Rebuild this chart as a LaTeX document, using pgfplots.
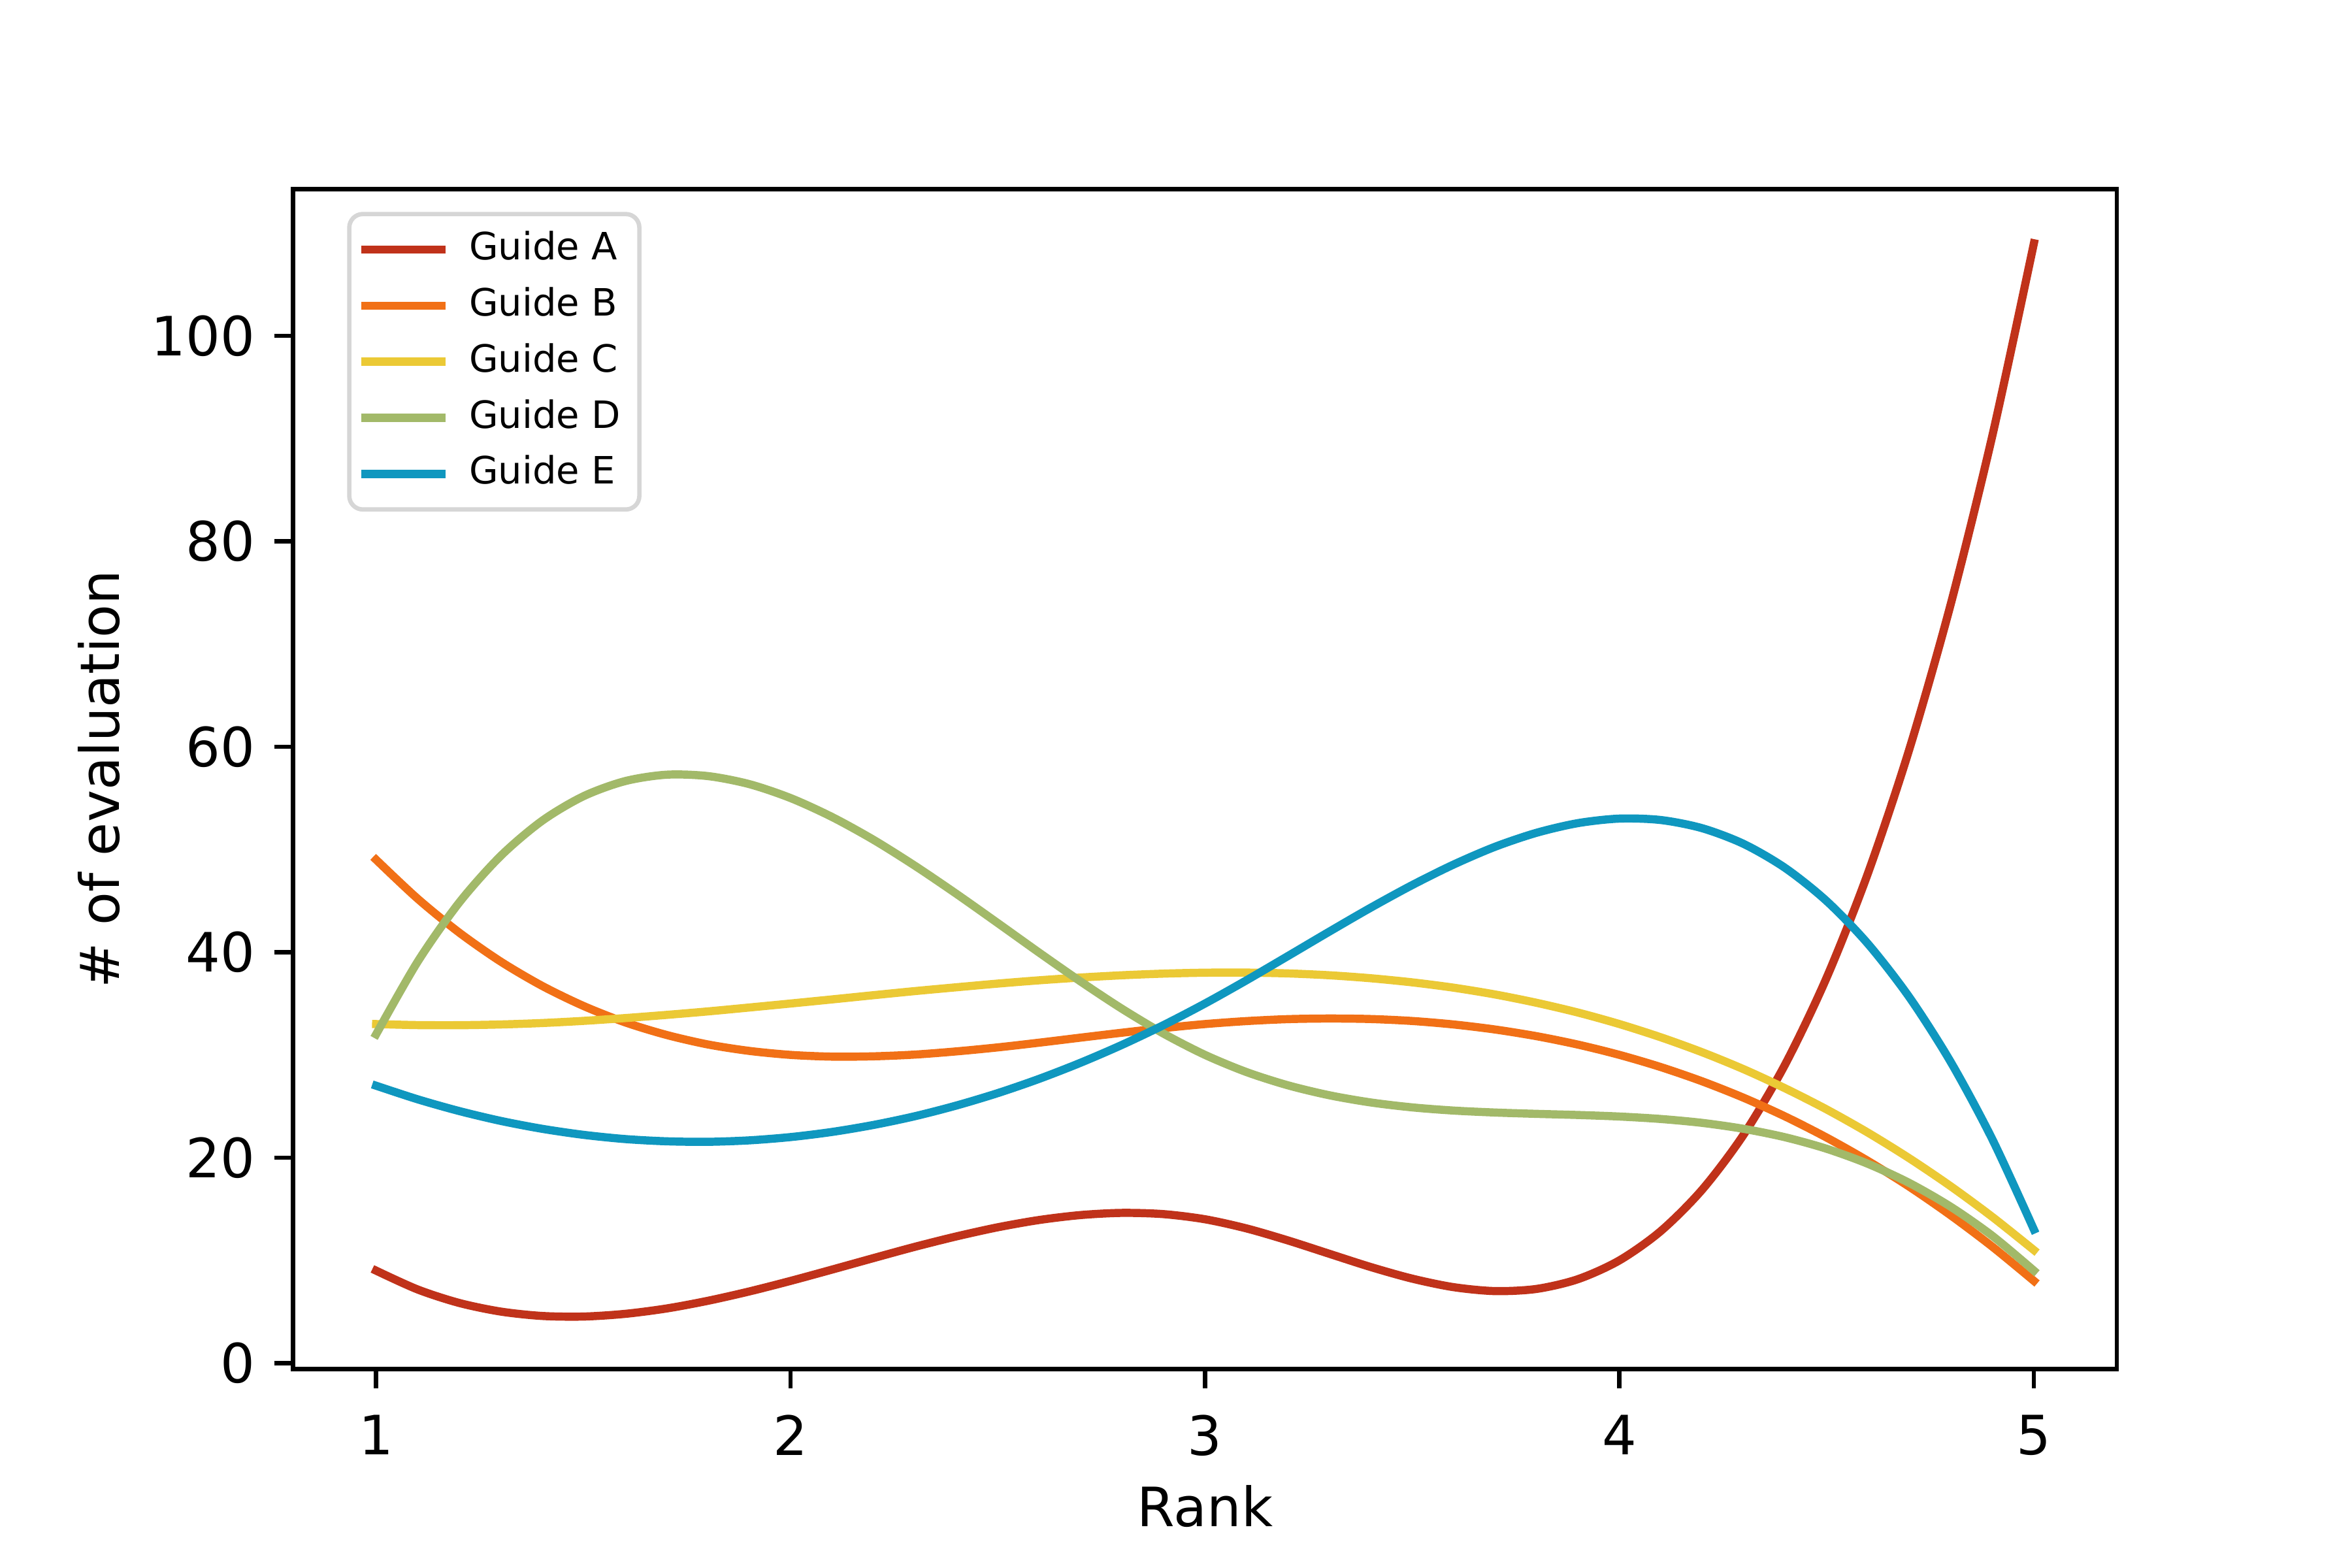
\documentclass[border=0pt]{standalone}
\usepackage{fontspec}
\setmainfont{DejaVu Sans}
\usepackage{pgfplots}
\pgfplotsset{compat=1.18}
\definecolor{cA}{RGB}{192,50,26}
\definecolor{cB}{RGB}{241,112,22}
\definecolor{cC}{RGB}{235,201,53}
\definecolor{cD}{RGB}{162,185,105}
\definecolor{cE}{RGB}{15,151,191}
\definecolor{lgframe}{RGB}{214,214,214}
\begin{document}
\begin{tikzpicture}
\path[use as bounding box] (-0.748in,-0.507in) rectangle (5.252in,3.493in);
\begin{axis}[
  at={(0,0)}, anchor=south west,
  scale only axis, width=4.652in, height=3.01in,
  xmin=0.8, xmax=5.2, ymin=-0.6, ymax=114.25,
  xtick={1,2,3,4,5}, ytick={0,20,40,60,80,100},
  xtick pos=left, ytick pos=left,
  tick align=outside, major tick length=3.5pt,
  tick style={black, line width=0.8pt},
  axis line style={line width=0.8pt},
  ticklabel style={font=\fontsize{10}{12}\selectfont},
  xticklabel style={yshift=-1.4pt},
  /pgf/number format/assume math mode=true,
  xlabel={Rank}, ylabel={\# of evaluation},
  label style={font=\fontsize{10}{12}\selectfont},
  xlabel style={at={([yshift=-25.3pt]axis description cs:0.5,0)}, anchor=center},
  ylabel style={at={([xshift=-35.75pt]axis description cs:0,0.5)}, anchor=center},
  legend cell align=left,
  legend style={at={(0.02956,0.9809)}, anchor=north west, draw=lgframe, line width=0.8pt,
    rounded corners=2.5pt, font=\fontsize{6.94}{8}\selectfont,
    inner xsep=1.45pt, inner ysep=1.4pt, row sep=0pt, /tikz/column sep=1.65pt,
    nodes={inner ysep=1.78pt, inner xsep=2pt}},
  legend image code/.code={\draw[#1, line width=1.5pt, sharp corners, line cap=butt] (0pt,0pt) -- (15.5pt,0pt);},
  every axis plot/.append style={line width=1.5pt, line cap=rect, smooth},
]
\addplot[cA] coordinates {
(1.0,9.00) (1.1,7.17) (1.2,5.86) (1.3,5.02) (1.4,4.59) (1.5,4.53) (1.6,4.79) (1.7,5.31)
(1.8,6.06) (1.9,6.97) (2.0,8.00) (2.1,9.10) (2.2,10.22) (2.3,11.32) (2.4,12.33) (2.5,13.22)
(2.6,13.93) (2.7,14.41) (2.8,14.62) (2.9,14.50) (3.0,14.00) (3.1,13.11) (3.2,11.94) (3.3,10.64)
(3.4,9.35) (3.5,8.22) (3.6,7.39) (3.7,7.01) (3.8,7.22) (3.9,8.17) (4.0,10.00) (4.1,12.86)
(4.2,16.90) (4.3,22.26) (4.4,29.09) (4.5,37.53) (4.6,47.73) (4.7,59.83) (4.8,73.98) (4.9,90.32)
(5.0,109.00)};
\addlegendentry{Guide A}
\addplot[cB] coordinates {
(1.0,49.00) (1.1,45.21) (1.2,41.92) (1.3,39.10) (1.4,36.73) (1.5,34.77) (1.6,33.18) (1.7,31.95)
(1.8,31.02) (1.9,30.39) (2.0,30.00) (2.1,29.83) (2.2,29.86) (2.3,30.03) (2.4,30.34) (2.5,30.73)
(2.6,31.19) (2.7,31.68) (2.8,32.16) (2.9,32.61) (3.0,33.00) (3.1,33.29) (3.2,33.48) (3.3,33.54)
(3.4,33.49) (3.5,33.30) (3.6,32.96) (3.7,32.47) (3.8,31.82) (3.9,31.00) (4.0,30.00) (4.1,28.81)
(4.2,27.42) (4.3,25.82) (4.4,24.00) (4.5,21.95) (4.6,19.67) (4.7,17.15) (4.8,14.36) (4.9,11.32)
(5.0,8.00)};
\addlegendentry{Guide B}
\addplot[cC] coordinates {
(1.0,33.00) (1.1,32.90) (1.2,32.89) (1.3,32.96) (1.4,33.10) (1.5,33.31) (1.6,33.58) (1.7,33.89)
(1.8,34.23) (1.9,34.61) (2.0,35.00) (2.1,35.40) (2.2,35.81) (2.3,36.21) (2.4,36.58) (2.5,36.94)
(2.6,37.26) (2.7,37.53) (2.8,37.75) (2.9,37.91) (3.0,38.00) (3.1,38.01) (3.2,37.93) (3.3,37.75)
(3.4,37.46) (3.5,37.06) (3.6,36.54) (3.7,35.88) (3.8,35.07) (3.9,34.12) (4.0,33.00) (4.1,31.71)
(4.2,30.25) (4.3,28.60) (4.4,26.74) (4.5,24.69) (4.6,22.42) (4.7,19.92) (4.8,17.19) (4.9,14.22)
(5.0,11.00)};
\addlegendentry{Guide C}
\addplot[cD] coordinates {
(1.0,32.00) (1.1,39.05) (1.2,44.80) (1.3,49.34) (1.4,52.77) (1.5,55.17) (1.6,56.64) (1.7,57.27)
(1.8,57.14) (1.9,56.36) (2.0,55.00) (2.1,53.16) (2.2,50.94) (2.3,48.41) (2.4,45.68) (2.5,42.83)
(2.6,39.95) (2.7,37.14) (2.8,34.48) (2.9,32.07) (3.0,30.00) (3.1,28.33) (3.2,27.04) (3.3,26.07)
(3.4,25.37) (3.5,24.89) (3.6,24.58) (3.7,24.39) (3.8,24.26) (3.9,24.15) (4.0,24.00) (4.1,23.76)
(4.2,23.38) (4.3,22.80) (4.4,21.98) (4.5,20.86) (4.6,19.39) (4.7,17.52) (4.8,15.20) (4.9,12.38)
(5.0,9.00)};
\addlegendentry{Guide D}
\addplot[cE] coordinates {
(1.0,27.00) (1.1,25.68) (1.2,24.54) (1.3,23.58) (1.4,22.81) (1.5,22.22) (1.6,21.81) (1.7,21.59)
(1.8,21.54) (1.9,21.68) (2.0,22.00) (2.1,22.50) (2.2,23.18) (2.3,24.03) (2.4,25.07) (2.5,26.28)
(2.6,27.67) (2.7,29.24) (2.8,30.98) (2.9,32.90) (3.0,35.00) (3.1,37.26) (3.2,39.62) (3.3,42.00)
(3.4,44.33) (3.5,46.53) (3.6,48.53) (3.7,50.26) (3.8,51.62) (3.9,52.56) (4.0,53.00) (4.1,52.86)
(4.2,52.06) (4.3,50.53) (4.4,48.19) (4.5,44.97) (4.6,40.79) (4.7,35.58) (4.8,29.26) (4.9,21.76)
(5.0,13.00)};
\addlegendentry{Guide E}
\end{axis}
\end{tikzpicture}
\end{document}
